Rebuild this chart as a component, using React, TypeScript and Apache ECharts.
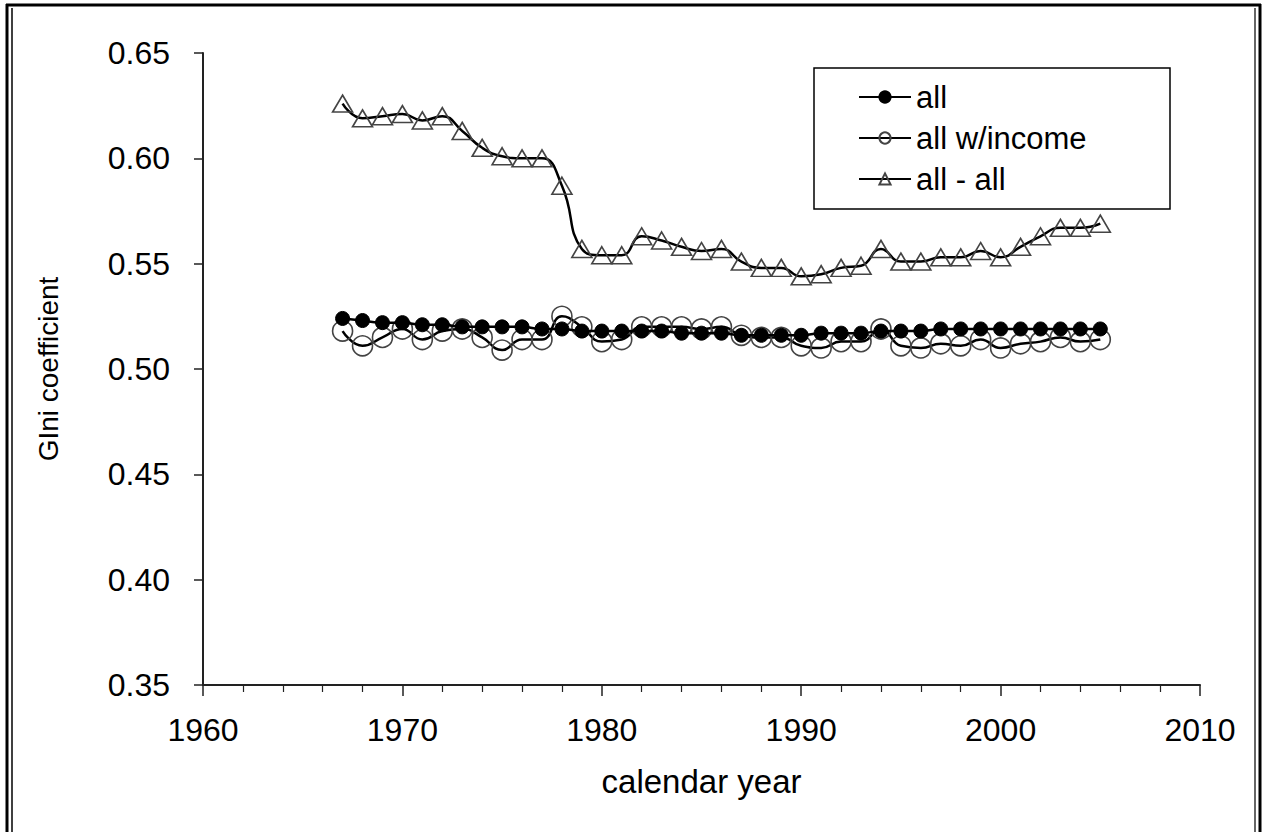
import React, { useEffect, useRef } from "react";
import * as echarts from "echarts";

const years = [
  1967, 1968, 1969, 1970, 1971, 1972, 1973, 1974, 1975, 1976, 1977, 1978, 1979,
  1980, 1981, 1982, 1983, 1984, 1985, 1986, 1987, 1988, 1989, 1990, 1991, 1992,
  1993, 1994, 1995, 1996, 1997, 1998, 1999, 2000, 2001, 2002, 2003, 2004, 2005,
];

const allValues = [
  0.524, 0.523, 0.522, 0.522, 0.521, 0.521, 0.52, 0.52, 0.52, 0.52, 0.519, 0.519, 0.518,
  0.518, 0.518, 0.518, 0.518, 0.517, 0.517, 0.517, 0.516, 0.516, 0.516, 0.516, 0.517, 0.517,
  0.517, 0.518, 0.518, 0.518, 0.519, 0.519, 0.519, 0.519, 0.519, 0.519, 0.519, 0.519, 0.519,
];

const allWithIncome = [
  0.518, 0.511, 0.515, 0.519, 0.514, 0.518, 0.519, 0.515, 0.509, 0.514, 0.514, 0.525, 0.52,
  0.513, 0.514, 0.52, 0.52, 0.52, 0.519, 0.52, 0.516, 0.515, 0.515, 0.511, 0.51, 0.513,
  0.513, 0.519, 0.511, 0.51, 0.512, 0.511, 0.514, 0.51, 0.512, 0.513, 0.515, 0.513, 0.514,
];

const allMinusAll = [
  0.626, 0.619, 0.62, 0.621, 0.618, 0.62, 0.613, 0.605, 0.601, 0.6, 0.6, 0.587, 0.557,
  0.554, 0.554, 0.563, 0.561, 0.558, 0.556, 0.557, 0.551, 0.548, 0.548, 0.544, 0.545, 0.548,
  0.549, 0.557, 0.551, 0.551, 0.553, 0.553, 0.556, 0.553, 0.558, 0.563, 0.567, 0.567, 0.569,
];

const seriesNames = ["all", "all w/income", "all - all"];
const xTicks = [1960, 1970, 1980, 1990, 2000, 2010];
const yTicks = [0.35, 0.4, 0.45, 0.5, 0.55, 0.6, 0.65];

const FONT = "Liberation Sans, Arial, sans-serif";

export default function App() {
  const ref = useRef<HTMLDivElement>(null);

  useEffect(() => {
    if (!ref.current) return;
    const chart = echarts.init(ref.current, undefined, { renderer: "svg" });
    const pair = (vals: number[]) => years.map((y, i) => [y, vals[i]]);

    const option: any = {
      animation: false,
      backgroundColor: "#ffffff",
      grid: { left: 203, right: 64, top: 53, bottom: 147, containLabel: false },
      xAxis: {
        type: "value",
        min: xTicks[0],
        max: xTicks[xTicks.length - 1],
        interval: 10,
        name: "calendar year",
        nameLocation: "middle",
        nameGap: 80,
        nameTextStyle: { fontFamily: FONT, fontSize: 33, color: "#000" },
        axisLine: { show: true, lineStyle: { color: "#222", width: 2 } },
        axisTick: { show: true, inside: false, length: 11, lineStyle: { color: "#222", width: 1.5 } },
        minorTick: { show: true, splitNumber: 5, length: 7, lineStyle: { color: "#222", width: 1.2 } },
        axisLabel: {
          fontFamily: FONT,
          fontSize: 32,
          color: "#000",
          margin: 29,
          formatter: (v: number) => String(v),
        },
        splitLine: { show: false },
        minorSplitLine: { show: false },
      },
      yAxis: {
        type: "value",
        min: yTicks[0],
        max: yTicks[yTicks.length - 1],
        interval: 0.05,
        name: "GIni coefficient",
        nameLocation: "middle",
        nameGap: 141,
        nameRotate: 90,
        nameTextStyle: { fontFamily: FONT, fontSize: 28, color: "#000" },
        axisLine: { show: true, lineStyle: { color: "#222", width: 2 } },
        axisTick: { show: true, inside: false, length: 9, lineStyle: { color: "#222", width: 1.5 } },
        axisLabel: {
          fontFamily: FONT,
          fontSize: 32,
          color: "#000",
          margin: 33,
          formatter: (v: number) => v.toFixed(2),
        },
        splitLine: { show: false },
      },
      legend: {
        orient: "vertical",
        left: 858,
        top: 81,
        itemWidth: 52,
        itemHeight: 14,
        itemGap: 9,
        padding: 0,
        data: seriesNames,
        textStyle: { fontFamily: FONT, fontSize: 31, color: "#000", lineHeight: 32 },
      },
      graphic: [
        { type: "rect", shape: { x: 814, y: 68, width: 356, height: 141 }, style: { fill: "none", stroke: "#000", lineWidth: 1.5 }, z: 0 },
        { type: "line", shape: { x1: 7, y1: 4, x2: 7, y2: 832 }, style: { stroke: "#000", lineWidth: 3 } },
        { type: "line", shape: { x1: 12, y1: 8, x2: 12, y2: 832 }, style: { stroke: "#000", lineWidth: 1.5 } },
        { type: "line", shape: { x1: 6, y1: 5, x2: 1261, y2: 5 }, style: { stroke: "#000", lineWidth: 3 } },
        { type: "line", shape: { x1: 1260, y1: 4, x2: 1260, y2: 832 }, style: { stroke: "#000", lineWidth: 3 } },
        { type: "line", shape: { x1: 1255, y1: 8, x2: 1255, y2: 832 }, style: { stroke: "#000", lineWidth: 1.2 } },
      ],
      series: [
        {
          name: seriesNames[1],
          type: "line",
          data: pair(allWithIncome),
          smooth: 0.5,
          symbol: "circle",
          symbolSize: 20,
          lineStyle: { color: "#000", width: 2.5 },
          itemStyle: { color: "none", borderColor: "#444", borderWidth: 1.6 },
          z: 2,
        },
        {
          name: seriesNames[2],
          type: "line",
          data: pair(allMinusAll),
          smooth: 0.5,
          symbol: "triangle",
          symbolSize: [20, 17],
          lineStyle: { color: "#000", width: 2.5 },
          itemStyle: { color: "none", borderColor: "#444", borderWidth: 1.6 },
          z: 2,
        },
        {
          name: seriesNames[0],
          type: "line",
          data: pair(allValues),
          smooth: 0.5,
          symbol: "circle",
          symbolSize: 14,
          lineStyle: { color: "#000", width: 2.5 },
          itemStyle: { color: "#000", borderColor: "#000", borderWidth: 1 },
          z: 3,
        },
      ],
    };
    chart.setOption(option);
    return () => chart.dispose();
  }, []);

  return (
    <div
      ref={ref}
      style={{ position: "fixed", left: 0, top: 0, width: 1264, height: 832, background: "#fff" }}
    />
  );
}
